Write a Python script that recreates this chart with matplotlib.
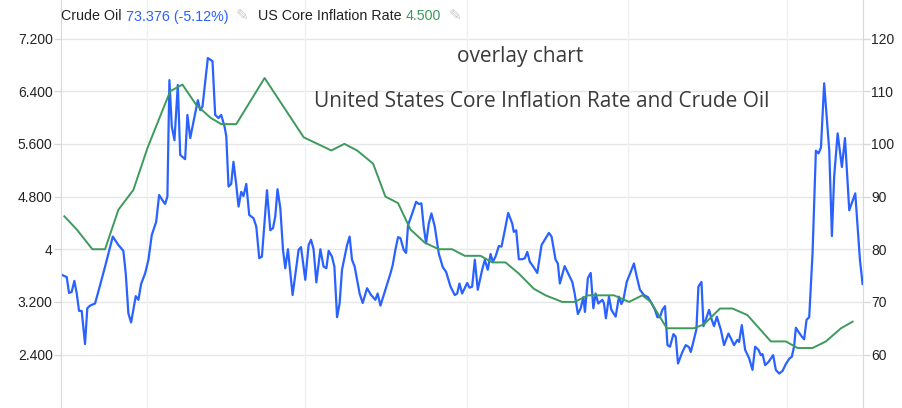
import matplotlib
matplotlib.use("Agg")
import matplotlib.pyplot as plt

# ---------------- data ----------------
oil_month = [0.10,0.43,0.60,0.80,1.00,1.18,1.35,1.55,1.80,1.97,2.18,2.55,2.93,3.30,3.88,4.30,4.67,4.85,5.05,5.25,
             5.60,5.80,6.00,6.30,6.55,6.80,7.13,7.35,7.60,7.80,7.97,8.12,8.30,8.50,8.75,8.93,9.30,9.47,9.68,10.00,
             10.25,10.43,10.60,11.00,11.35,11.55,11.80,12.00,12.25,
             12.38,12.55,12.75,12.92,13.13,13.30,13.50,13.67,13.88,14.10,14.42,14.63,14.85,15.05,15.43,15.68,15.88,
             16.05,16.22,16.43,16.63,16.80,17.00,17.35,17.80,17.98,18.30,18.55,18.73,18.92,19.13,19.43,19.67,19.88,
             20.05,20.30,20.48,20.68,20.87,21.05,21.43,21.62,21.80,22.00,22.37,22.60,22.93,23.23,23.55,23.72,23.93,
             24.30,24.68,
             24.85,25.05,25.25,25.43,25.67,25.85,26.00,26.30,26.60,26.80,27.00,27.17,27.35,27.55,27.75,28.00,28.30,
             28.60,28.85,29.18,29.50,29.68,29.85,30.05,30.43,30.60,30.80,31.00,31.22,31.55,31.75,31.97,32.18,32.35,
             32.55,32.80,33.00,33.20,33.50,33.80,33.92,34.10,34.30,34.55,34.75,34.93,35.12,35.30,35.68,36.00,36.55,
             36.75,37.05,
             37.22,37.37,37.73,38.05,38.30,38.48,38.72,38.93,39.13,39.25,39.47,39.68,39.88,40.05,40.25,40.55,40.67,
             40.82,41.05,41.23,41.55,41.80,41.98,42.13,42.38,42.68,42.92,43.13,43.37,43.67,43.97,44.23,44.48,44.68,
             44.87,45.05,45.25,45.43,45.62,45.88,46.05,46.22,46.55,46.80,47.05,47.18,47.38,47.60,47.75,47.98,48.13,
             48.30,48.55,48.75,48.92,49.13,
             49.43,49.67,50.00,50.18,50.42,50.67,50.80,51.00,51.25,51.55,51.80,52.00,52.25,52.43,52.55,52.75,53.00,
             53.35,53.55,53.80,54.05,54.30,54.55,54.75,54.92,55.05,55.25,55.50,55.67,55.85,56.05,56.30,56.55,56.75,
             56.93,57.17,57.55,57.75,57.92,58.18,58.50,58.73,59.05,59.50,59.85,60.05]
oil_price = [75.1,74.7,71.7,71.9,74.0,71.6,68.3,68.3,62.0,68.8,69.3,69.7,73.2,76.7,82.4,80.8,79.7,75.4,67.8,66.1,
             71.1,70.4,73.4,75.4,78.0,82.7,85.2,90.3,89.3,88.6,90.0,112.1,103.3,100.7,111.2,97.9,97.1,105.5,101.1,105.2,
             108.3,106.4,107.1,116.3,115.7,105.5,104.9,105.5,103.3,
             101.5,91.9,92.4,96.6,92.2,88.1,90.9,90.1,92.4,86.5,85.9,84.3,78.3,78.6,91.2,83.6,84.0,
             86.2,91.4,87.8,79.9,76.4,80.0,71.3,79.9,80.4,74.2,80.8,81.8,80.0,73.7,80.0,76.7,76.4,
             79.7,78.6,76.7,67.1,69.7,76.1,80.8,82.4,78.0,76.7,71.6,69.8,72.6,71.3,70.4,71.6,69.3,
             72.3,75.4,
             77.0,79.9,82.3,82.1,79.9,79.3,84.6,86.7,89.0,88.6,88.7,84.3,81.1,84.9,86.8,84.3,79.2,
             76.6,75.7,72.9,71.3,71.6,73.5,71.6,73.6,72.7,72.9,78.0,72.3,76.1,78.0,76.1,79.1,77.6,
             78.6,80.6,80.5,83.0,86.9,84.9,83.3,83.6,78.1,78.1,78.3,79.5,77.6,77.0,75.5,80.8,83.1,
             82.4,78.0,
             77.3,73.5,76.8,75.1,73.8,71.6,67.7,68.8,70.9,68.1,74.5,75.5,68.8,71.6,69.7,70.4,69.8,
             66.9,71.0,68.5,67.2,71.0,69.6,70.4,73.8,75.7,77.3,74.8,72.3,71.3,70.9,69.8,68.6,67.1,
             67.1,68.5,69.2,61.8,61.5,63.9,63.4,58.3,60.5,61.8,61.4,60.5,62.5,64.8,72.9,73.8,65.4,
             66.6,68.5,66.6,65.4,67.2,
             64.7,61.8,64.0,63.1,61.8,62.8,62.4,65.6,60.9,59.3,57.1,61.5,60.9,59.9,60.1,58.0,58.6,
             59.9,57.1,56.4,56.9,58.2,59.2,59.6,61.6,65.1,64.3,63.4,62.9,66.6,67.1,79.2,98.7,98.2,
             99.3,111.5,98.8,82.5,93.8,102.0,95.6,101.1,87.4,90.6,78.0,73.4]

infl_month = [0.25,1.18,2.35,3.30,4.30,5.42,6.50,8.18,9.10,10.10,11.18,12.0,13.13,15.25,18.18,20.25,21.23,22.18,
              23.38,24.30,25.25,26.18,27.25,28.30,29.30,30.25,31.43,32.30,33.30,34.30,35.42,36.30,37.55,38.48,
              39.48,41.43,42.55,43.55,44.18,45.38,47.42,48.17,49.37,50.30,51.42,53.18,54.30,55.18,56.30,57.30,
              58.43,59.30]
infl_rate = [4.5,4.3,4.0,4.0,4.6,4.9,5.55,6.4,6.5,6.2,6.0,5.9,5.9,6.6,5.7,5.5,5.6,5.5,5.3,4.8,
             4.7,4.3,4.1,4.0,4.0,3.9,3.9,3.8,3.8,3.63,3.4,3.3,3.2,3.2,3.3,3.3,3.2,3.3,3.2,2.8,
             2.8,2.86,3.1,3.1,3.0,2.6,2.6,2.5,2.5,2.6,2.8,2.9]

left_ticks = [2.4, 3.2, 4.0, 4.8, 5.6, 6.4, 7.2]
left_labels = ["2.400", "3.200", "4", "4.800", "5.600", "6.400", "7.200"]
right_ticks = [60, 70, 80, 90, 100, 110, 120]
right_labels = ["60", "70", "80", "90", "100", "110", "120"]
vgrid_months = [6.45, 18.25, 30.45, 42.5, 54.4]

title1 = "overlay chart"
title2 = "United States Core Inflation Rate and Crude Oil"
oil_name, oil_last = "Crude Oil", "73.376 (-5.12%)"
infl_name, infl_last = "US Core Inflation Rate", "4.500"

BLUE = "#2962ff"
GREEN = "#3d9a5c"
GRID = "#e6e6e6"
VGRID = "#edf1f3"
AXC = "#d9d9d9"
TXT = "#222222"

W, H = 902, 408
fig = plt.figure(figsize=(W / 100, H / 100), dpi=100)
fig.patch.set_facecolor("white")

rect = [61 / W, 0.0, (863 - 61) / W, 1.0]
ax_oil = fig.add_axes(rect)                 # bottom: oil, right scale, holds grid
ax_inf = fig.add_axes(rect, sharex=ax_oil)  # top: inflation, left scale
ax_inf.patch.set_alpha(0)

# scales (left 7.2 <-> right 120, left 2.4 <-> right 60)
lo_left, hi_left = 1.589, 7.785
ax_inf.set_ylim(lo_left, hi_left)
ax_oil.set_ylim(60 + (lo_left - 2.4) * 12.5, 60 + (hi_left - 2.4) * 12.5)
ax_oil.set_xlim(0, 60.08)

ax_oil.plot(oil_month, oil_price, color=BLUE, lw=1.6, solid_joinstyle="round", zorder=3)
ax_inf.plot(infl_month, infl_rate, color=GREEN, lw=1.4, solid_joinstyle="round", zorder=3)

# grid on bottom axes
for v in right_ticks:
    ax_oil.axhline(v, color=GRID, lw=1.0, zorder=0)
for m in vgrid_months:
    ax_oil.axvline(m, color=VGRID, lw=1.0, zorder=0)

# ticks
ax_oil.yaxis.tick_right()
ax_oil.set_yticks(right_ticks)
ax_oil.set_yticklabels(right_labels)
ax_inf.yaxis.tick_left()
ax_inf.set_yticks(left_ticks)
ax_inf.set_yticklabels(left_labels)
for a in (ax_oil, ax_inf):
    a.set_xticks([])
    a.tick_params(axis="y", length=5, width=1, color=AXC, labelcolor=TXT, pad=1,
                  labelsize=10, labelfontfamily="Liberation Sans")
    for s in a.spines.values():
        s.set_visible(False)
ax_inf.spines["left"].set_visible(True)
ax_inf.spines["left"].set_color(AXC)
ax_oil.spines["right"].set_visible(True)
ax_oil.spines["right"].set_color(AXC)
ax_oil.tick_params(axis="y", labelleft=False, labelright=True, left=False, right=True)

# titles
fig.text(520 / W, 1 - 62 / H, title1, ha="center", va="baseline", fontsize=15,
         family="Open Sans", color="#3a3a3a")
fig.text(542 / W, 1 - 107 / H, title2, ha="center", va="baseline", fontsize=15,
         family="Open Sans", color="#3a3a3a")

# legend header, items chained left to right
fs = 10.3
by = 1 - 20.5 / H
renderer = fig.canvas.get_renderer()
items = [(oil_name, TXT, "Liberation Sans", fs, 4),
         (oil_last, BLUE, "Liberation Sans", fs, 8),
         ("\u270e", "#c8c8c8", "DejaVu Sans", 11, 9),
         (infl_name, TXT, "Liberation Sans", fs, 4),
         (infl_last, GREEN, "Liberation Sans", fs, 8),
         ("\u270e", "#c8c8c8", "DejaVu Sans", 11, 0)]
xpix = 61
for txt, col, fam, size, gap in items:
    t = fig.text(xpix / W, by, txt, ha="left", va="baseline", fontsize=size, family=fam, color=col)
    xpix = t.get_window_extent(renderer).x1 + gap

fig.savefig("out.png", dpi=100)
